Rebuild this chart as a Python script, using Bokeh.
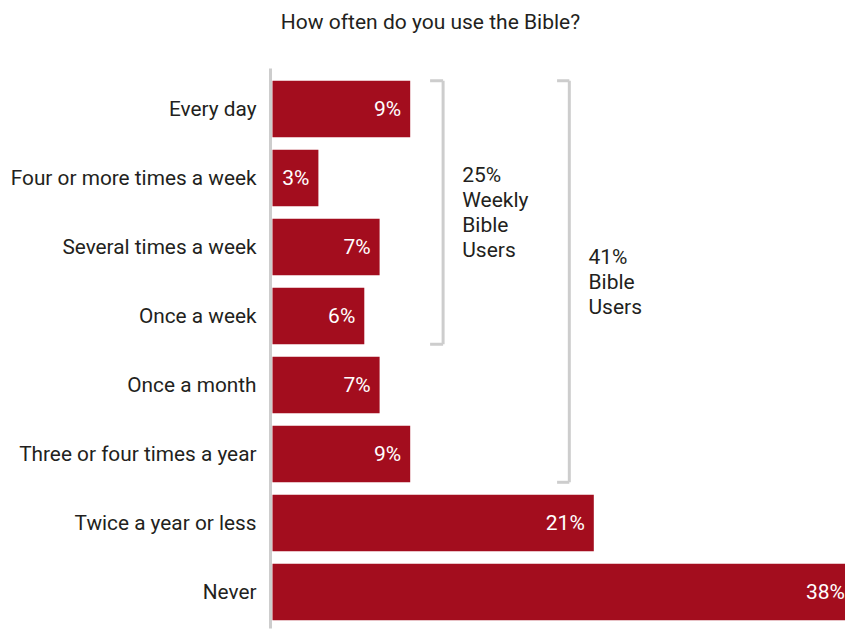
from bokeh.plotting import figure
from bokeh.models import Range1d, FixedTicker, ColumnDataSource
from bokeh.core.properties import value
from bokeh.embed import file_html
from bokeh.resources import INLINE

# ---- data ----
categories = ["Every day", "Four or more times a week", "Several times a week",
              "Once a week", "Once a month", "Three or four times a year",
              "Twice a year or less", "Never"]
values = [9, 3, 7, 6, 7, 9, 21, 38]
labels = [f"{v}%" for v in values]
title_text = "How often do you use the Bible?"
group1_lines = ["25%", "Weekly", "Bible", "Users"]
group1_rows = (0, 3)
group2_lines = ["41%", "Bible", "Users"]
group2_rows = (0, 5)

# ---- style ----
FONT = "Roboto"
BAR = "#a30d1e"
INK = "#231f20"
GRAY = "#cdcdcd"
PX_PER_UNIT = 15.3
ROW_PX = 69.0
TOP_PX = 74.0
W, H = 845, 630
LEFT = 268

x_start = -(272 - LEFT) / PX_PER_UNIT
x_end = x_start + (W - LEFT) / PX_PER_UNIT
y_top = -TOP_PX / ROW_PX
y_bot = y_top + H / ROW_PX

p = figure(width=W, height=H, output_backend="svg", toolbar_location=None,
           x_range=Range1d(x_start, x_end), y_range=Range1d(y_bot, y_top),
           min_border_left=LEFT, min_border_right=0, min_border_top=0,
           min_border_bottom=0)
p.outline_line_color = None
p.grid.visible = False
p.xaxis.visible = False
p.background_fill_color = "white"
p.border_fill_color = "white"

ys = [i + 0.5 for i in range(len(categories))]
src = ColumnDataSource(dict(y=ys, v=values, lab=labels, cat=categories))
p.hbar(y="y", left=0, right="v", height=0.82, source=src, fill_color=BAR,
       line_color=None)
p.text(x="v", y="y", text="lab", source=src, x_offset=-9, text_align="right",
       text_baseline="middle", text_color="white", text_font=value(FONT),
       text_font_size="21px")

yax = p.yaxis[0]
yax.ticker = FixedTicker(ticks=ys)
yax.major_label_overrides = {y: c for y, c in zip(ys, categories)}
yax.axis_line_color = None
yax.major_tick_line_color = None
yax.minor_tick_line_color = None
yax.major_label_standoff = 6
yax.major_label_text_font = FONT
yax.major_label_text_font_size = "20.8px"
yax.major_label_text_color = INK

# vertical gray baseline
p.segment(x0=[-2 / PX_PER_UNIT], x1=[-2 / PX_PER_UNIT], y0=[-6 / ROW_PX],
          y1=[len(categories) + 2 / ROW_PX], line_color=GRAY, line_width=3)

# brackets
def bracket(rows, xv, xt, lines, xtext):
    top = rows[0] + 0.5 - 0.41
    bot = rows[1] + 0.5 + 0.41
    p.segment(x0=[xv, xt, xt], x1=[xv, xv, xv], y0=[top, top, bot],
              y1=[bot, top, bot], line_color=GRAY, line_width=3)
    mid = (top + bot) / 2
    step = 25 / ROW_PX
    n = len(lines)
    ly = [mid + (i - (n - 1) / 2) * step for i in range(n)]
    p.text(x=[xtext] * n, y=ly, text=lines, text_align="left",
           text_baseline="middle", text_color=INK, text_font=value(FONT),
           text_font_size="21px")

bracket(group1_rows, 11.15, 10.3, group1_lines, 12.4)
bracket(group2_rows, 19.4, 18.6, group2_lines, 20.65)

# title
p.text(x=[(430 - 272) / PX_PER_UNIT], y=[(21 - TOP_PX) / ROW_PX], text=[title_text],
       text_align="center", text_baseline="middle", text_color=INK,
       text_font=value(FONT), text_font_size="21px")

open("out.html", "w").write(file_html(p, INLINE))
